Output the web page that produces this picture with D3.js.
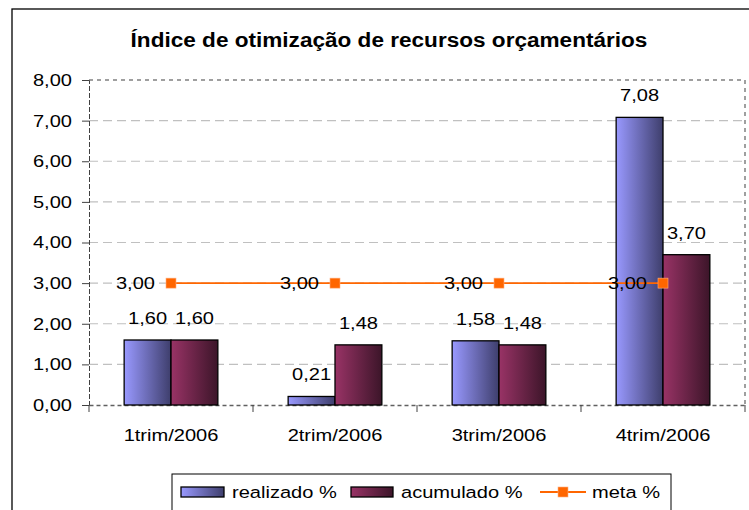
<!DOCTYPE html>
<html><head><meta charset="utf-8">
<script src="https://cdn.jsdelivr.net/npm/d3@7"></script>
<style>body{margin:0;background:#fff}svg{display:block;font-family:"Liberation Sans",Arial,sans-serif}</style>
</head><body>
<svg id="c" width="749" height="510"></svg>
<script>
const title = "Índice de otimização de recursos orçamentários";
const categories = ["1trim/2006","2trim/2006","3trim/2006","4trim/2006"];
const realizado = [1.60, 0.21, 1.58, 7.08];
const acumulado = [1.60, 1.48, 1.48, 3.70];
const meta = [3.00, 3.00, 3.00, 3.00];
const yTicks = [0,1,2,3,4,5,6,7,8];
const seriesNames = ["realizado %", "acumulado %", "meta %"];

const fmt = v => d3.format(".2f")(v).replace(".", ",");
const svg = d3.select("#c");
const defs = svg.append("defs");
function grad(id, c1, c2){
  const g = defs.append("linearGradient").attr("id", id).attr("x1","0").attr("x2","1").attr("y1","0").attr("y2","0");
  g.append("stop").attr("offset","0").attr("stop-color", c1);
  g.append("stop").attr("offset","1").attr("stop-color", c2);
}
grad("gBlue", "#9999FF", "#3E3E6C");
grad("gRed", "#993366", "#3C1529");
const SX = 1.18, FS = 17;
function stretch(sel, s){
  sel.each(function(){
    const t = d3.select(this);
    const x = +t.attr("x") || 0, y = +t.attr("y") || 0;
    t.attr("x", 0).attr("y", 0).attr("transform", `translate(${x},${y}) scale(${s},1)`);
  });
}

// outer border
svg.append("rect").attr("x",12).attr("y",9).attr("width",760).attr("height",520)
  .attr("fill","none").attr("stroke","#000").attr("stroke-width",1.3);

const tt = svg.append("text").attr("x",389).attr("y",47).attr("text-anchor","middle")
  .attr("font-weight","bold").attr("font-size",21).text(title);
stretch(tt, 1.075);

const L=89, R=745, T=80, B=405;
const x = d3.scaleBand().domain(categories).range([L,R]).paddingInner(0).paddingOuter(0);
const y = d3.scaleLinear().domain([0,8]).range([B,T]);
const groupW = x.bandwidth()/3.5;
const barW = groupW;

// gridlines
svg.append("g").selectAll("line").data(yTicks.filter(t=>t>0 && t<8)).join("line")
  .attr("x1",L).attr("x2",R).attr("y1",d=>y(d)).attr("y2",d=>y(d))
  .attr("stroke","#C0C0C0").attr("stroke-width",1.2).attr("stroke-dasharray","9,5");

// plot border (top/right) dashed
svg.append("line").attr("x1",L).attr("x2",R).attr("y1",T).attr("y2",T).attr("stroke","#808080").attr("stroke-width",1.5).attr("stroke-dasharray","4,4");
svg.append("line").attr("x1",R).attr("x2",R).attr("y1",T).attr("y2",B).attr("stroke","#808080").attr("stroke-width",1.5).attr("stroke-dasharray","4,4");

// y axis
const ya = svg.append("g").attr("transform",`translate(${L},0)`)
  .call(d3.axisLeft(y).tickValues(yTicks).tickFormat(fmt).tickSize(7).tickPadding(10));
ya.select(".domain").attr("stroke","#404040").attr("stroke-dasharray","5,2");
ya.selectAll(".tick line").attr("stroke","#404040");
ya.selectAll("text").attr("font-size",FS).attr("fill","#000").attr("font-family","Liberation Sans, Arial, sans-serif");
ya.selectAll("text").attr("x", -17);
stretch(ya.selectAll("text"), SX);

// x axis
const xa = svg.append("g").attr("transform",`translate(0,${B})`)
  .call(d3.axisBottom(x).tickSize(0).tickPadding(24));
xa.select(".domain").attr("stroke","#606060").attr("stroke-width",1.5).attr("stroke-dasharray","4,3");
xa.selectAll("text").attr("font-size",FS).attr("fill","#000").attr("font-family","Liberation Sans, Arial, sans-serif");
stretch(xa.selectAll("text"), SX);
svg.append("g").selectAll("line").data(d3.range(categories.length+1)).join("line")
  .attr("x1",i=>L+i*x.bandwidth()).attr("x2",i=>L+i*x.bandwidth())
  .attr("y1",B).attr("y2",B+7).attr("stroke","#404040");

// bars
const bars = svg.append("g");
[[realizado,"url(#gBlue)",0],[acumulado,"url(#gRed)",1]].forEach(([vals,fill,k])=>{
  bars.selectAll(null).data(vals).join("rect")
    .attr("x",(d,i)=>x(categories[i]) + x.bandwidth()/2 - groupW + k*barW)
    .attr("y",d=>y(d)).attr("width",barW).attr("height",d=>B-y(d))
    .attr("fill",fill).attr("stroke","#000").attr("stroke-width",1.3);
  const lt = bars.selectAll(null).data(vals).join("text")
    .attr("x",(d,i)=>x(categories[i]) + x.bandwidth()/2 - groupW + k*barW + barW/2)
    .attr("y",d=>y(d)-16).attr("text-anchor","middle").attr("font-size",FS).text(fmt);
  stretch(lt, SX);
});

// meta line
const cx = i => x(categories[i]) + x.bandwidth()/2;
svg.append("path").datum(meta)
  .attr("d", d3.line().x((d,i)=>cx(i)).y(d=>y(d)))
  .attr("fill","none").attr("stroke","#FF6600").attr("stroke-width",1.8);
svg.append("g").selectAll("rect").data(meta).join("rect")
  .attr("x",(d,i)=>cx(i)-5).attr("y",d=>y(d)-5).attr("width",10).attr("height",10)
  .attr("fill","#FF6600").attr("stroke","#FFB080").attr("stroke-width",0.6);
const mt = svg.append("g").selectAll("text").data(meta).join("text")
  .attr("x",(d,i)=>cx(i)-16).attr("y",d=>y(d)+6).attr("text-anchor","end")
  .attr("font-size",FS).text(fmt);
stretch(mt, SX);

// legend
const lg = svg.append("g");
lg.append("rect").attr("x",172).attr("y",474).attr("width",499).attr("height",40)
  .attr("fill","#fff").attr("stroke","#000").attr("stroke-width",1);
lg.append("rect").attr("x",181).attr("y",487).attr("width",43).attr("height",10).attr("fill","url(#gBlue)").attr("stroke","#000").attr("stroke-width",1.3);
lg.append("rect").attr("x",351).attr("y",487).attr("width",42).attr("height",10).attr("fill","url(#gRed)").attr("stroke","#000").attr("stroke-width",1.3);
lg.append("line").attr("x1",540).attr("x2",586).attr("y1",492).attr("y2",492).attr("stroke","#FF6600").attr("stroke-width",1.8);
lg.append("rect").attr("x",558).attr("y",487).attr("width",10).attr("height",10).attr("fill","#FF6600").attr("stroke","#FFB080").attr("stroke-width",0.6);
const lt2 = lg.selectAll("text.l").data([[232,seriesNames[0]],[401,seriesNames[1]],[592,seriesNames[2]]]).join("text")
  .attr("x",d=>d[0]).attr("y",498).attr("font-size",FS).text(d=>d[1]);
stretch(lt2, SX);
</script>
</body></html>
